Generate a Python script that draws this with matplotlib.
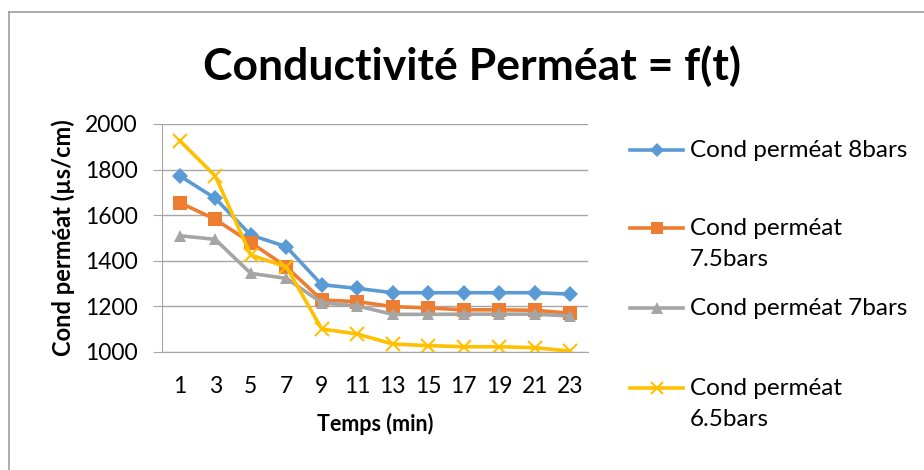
import matplotlib
matplotlib.use("Agg")
import matplotlib.pyplot as plt
from matplotlib.lines import Line2D

plt.rcParams['font.family'] = ['Lato', 'DejaVu Sans']

# data
temps = ['1', '3', '5', '7', '9', '11', '13', '15', '17', '19', '21', '23']
cond_8 = [1773, 1674, 1513, 1462, 1295, 1279, 1260, 1260, 1260, 1260, 1260, 1254]
cond_75 = [1655, 1582, 1480, 1374, 1228, 1221, 1199, 1193, 1185, 1185, 1183, 1170]
cond_7 = [1510, 1494, 1345, 1323, 1216, 1202, 1165, 1165, 1166, 1166, 1166, 1158]
cond_65 = [1927, 1772, 1425, 1374, 1101, 1079, 1035, 1028, 1023, 1023, 1019, 1004]

labels = ['Cond perméat 8bars', 'Cond perméat\n7.5bars',
          'Cond perméat 7bars', 'Cond perméat\n6.5bars']
colors = ['#5B9BD5', '#ED7D31', '#A5A5A5', '#FFC000']
markers = ['D', 's', '^', 'x']
msizes = [8, 10, 9, 10]

W, H = 924, 470
fig = plt.figure(figsize=(W / 100, H / 100), dpi=100)
ax = fig.add_axes([162 / W, 1 - 352 / H, 426 / W, 228 / H])

x = range(len(temps))
series = [cond_8, cond_75, cond_7, cond_65]
for vals, c, m, ms in zip(series, colors, markers, msizes):
    ax.plot(x, vals, color=c, marker=m, markersize=ms, linewidth=2.6,
            markeredgewidth=1.5 if m == 'x' else 0, markeredgecolor=c)

ax.set_xlim(-0.5, len(temps) - 0.5)
ax.set_ylim(1000, 2000)
ax.set_yticks([1000, 1200, 1400, 1600, 1800, 2000])
ax.set_xticks(list(x))
ax.set_xticklabels(temps)
ax.tick_params(axis='x', length=0, labelsize=16.5, pad=17)
ax.tick_params(axis='y', length=6.5, color='#A6A6A6', labelsize=16.5, pad=11)
ax.grid(axis='y', color='#A6A6A6', linewidth=1)
ax.set_axisbelow(True)
for s in ['top', 'right']:
    ax.spines[s].set_visible(False)
for s in ['left', 'bottom']:
    ax.spines[s].set_color('#A6A6A6')

ax.set_xlabel('Temps (min)', fontsize=15.5, fontweight='bold', labelpad=12)
ax.set_ylabel('Cond perméat (µs/cm)', fontsize=17, fontweight='bold', labelpad=7)
fig.text(472 / W, 1 - 66 / H, 'Conductivité Perméat = f(t)', fontsize=32,
         fontweight='bold', ha='center', va='center')

# legend, drawn by hand so the marker sits on the first text line
legend_y = [150, 228, 308, 388]
for lab, c, m, ms, ly in zip(labels, colors, markers, msizes, legend_y):
    yf = 1 - ly / H
    fig.add_artist(Line2D([630 / W, 683 / W], [yf, yf], color=c, linewidth=2.6))
    fig.add_artist(Line2D([657 / W], [yf], color=c, marker=m, markersize=ms - 1,
                          markeredgewidth=1.5 if m == 'x' else 0, markeredgecolor=c))
    for i, line in enumerate(lab.split('\n')):
        fig.text(690 / W, 1 - (ly + 7 + 31 * i) / H, line, fontsize=17.5,
                 va='baseline')

# chart frame: only its top and left edges are in the picture
fig.add_artist(Line2D([8.5 / W, 1], [1 - 12 / H, 1 - 12 / H], color='#9E9E9E', linewidth=1.2))
fig.add_artist(Line2D([8.5 / W, 8.5 / W], [0, 1 - 12 / H], color='#9E9E9E', linewidth=1.2))

fig.savefig('out.png', dpi=100)
